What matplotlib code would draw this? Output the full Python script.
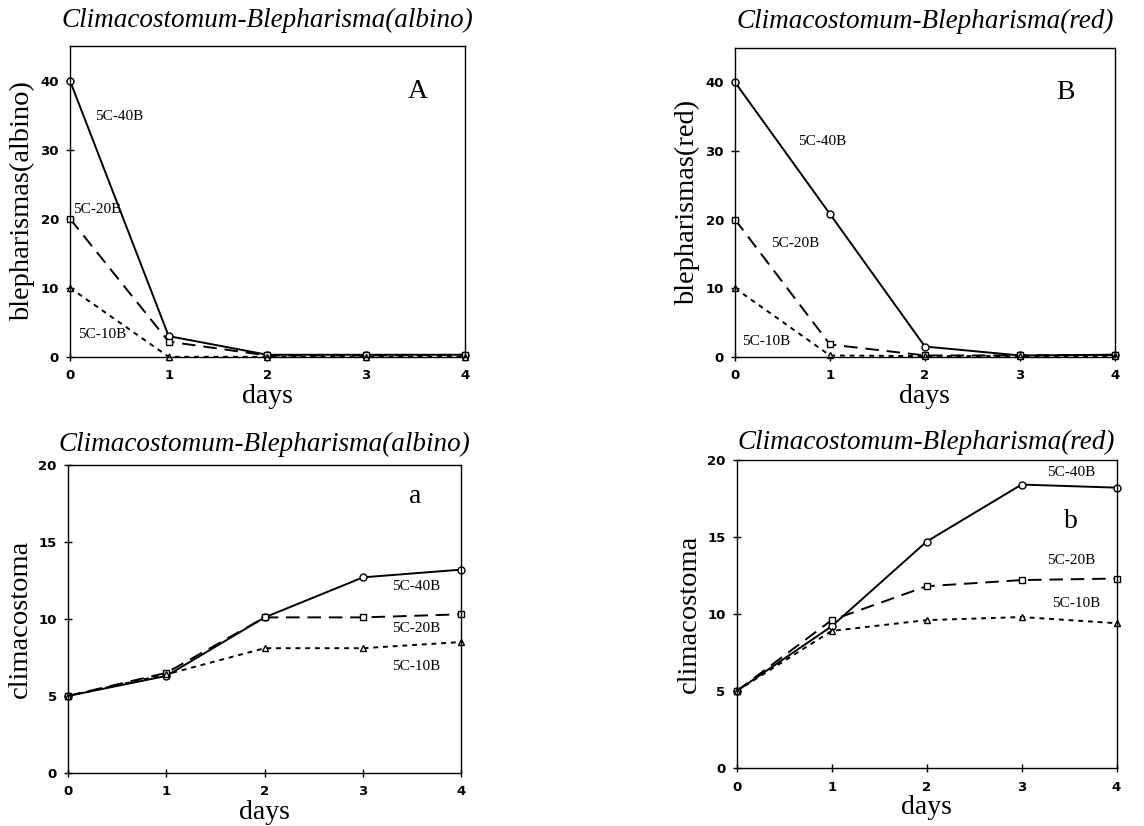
import matplotlib
matplotlib.use("Agg")
import matplotlib.pyplot as plt

# 数据
days = [0, 1, 2, 3, 4]

albino_blep_40 = [40, 3.0, 0.3, 0.3, 0.3]
albino_blep_20 = [20, 2.2, 0.2, 0.2, 0.3]
albino_blep_10 = [10, 0.0, 0.0, 0.0, 0.0]

red_blep_40 = [40, 20.8, 1.5, 0.2, 0.3]
red_blep_20 = [20, 1.8, 0.2, 0.2, 0.3]
red_blep_10 = [10, 0.2, 0.1, 0.1, 0.1]

albino_clim_40 = [5, 6.3, 10.1, 12.7, 13.2]
albino_clim_20 = [5, 6.5, 10.1, 10.1, 10.3]
albino_clim_10 = [5, 6.4, 8.1, 8.1, 8.5]

red_clim_40 = [5, 9.2, 14.7, 18.4, 18.2]
red_clim_20 = [5, 9.6, 11.8, 12.2, 12.3]
red_clim_10 = [5, 8.9, 9.6, 9.8, 9.4]

series_names = ["5C-40B", "5C-20B", "5C-10B"]

SERIF = ["Liberation Serif", "DejaVu Serif"]
SANS = ["DejaVu Sans"]

STYLES = [
    dict(linestyle="-", marker="o"),
    dict(linestyle=(0, (7, 4)), marker="s"),
    dict(linestyle=(0, (2.5, 2.5)), marker="^"),
]


def draw_panel(ax, series, ylim, yticks, ylabel, title, title_pad,
               letter, letter_xy, label_xy):
    for vals, style in zip(series, STYLES):
        ax.plot(days, vals, color="black", linewidth=1.4, markersize=5,
                markerfacecolor="white", markeredgecolor="black",
                markeredgewidth=1.0, clip_on=False, **style)
    ax.set_xlim(0, 4)
    ax.set_ylim(*ylim)
    ax.set_xticks(days)
    ax.set_yticks(yticks)
    ax.tick_params(direction="inout", length=6, width=1, labelsize=9.5,
                   top=False, right=False)
    ax.tick_params(axis="x", pad=6)
    ax.tick_params(axis="y", pad=5)
    for lab in ax.get_xticklabels() + ax.get_yticklabels():
        lab.set_family(SANS)
        lab.set_fontweight("bold")
    ax.set_xlabel("days", family=SERIF, fontsize=20, labelpad=1)
    ax.set_ylabel(ylabel, family=SERIF, fontsize=20.5, labelpad=4)
    ax.set_title(title, family=SERIF, style="italic", fontsize=19.5, pad=title_pad)
    ax.text(*letter_xy, letter, family=SERIF, fontsize=20)
    for name, (x, y) in zip(series_names, label_xy):
        ax.text(x, y, name, family=SERIF, fontsize=11, va="center")
    for sp in ax.spines.values():
        sp.set_linewidth(1.0)


fig = plt.figure(figsize=(11.44, 8.26), dpi=100)

axA = fig.add_axes([0.0612, 0.568, 0.345, 0.376])
draw_panel(axA, [albino_blep_40, albino_blep_20, albino_blep_10],
           (0, 45), [0, 10, 20, 30, 40], "blepharismas(albino)",
           "Climacostomum-Blepharisma(albino)", 14, "A", (3.42, 37.5),
           [(0.25, 34.8), (0.03, 21.4), (0.08, 3.2)])

axB = fig.add_axes([0.6425, 0.568, 0.332, 0.374])
draw_panel(axB, [red_blep_40, red_blep_20, red_blep_10],
           (0, 45), [0, 10, 20, 30, 40], "blepharismas(red)",
           "Climacostomum-Blepharisma(red)", 14, "B", (3.38, 37.5),
           [(0.66, 31.4), (0.38, 16.5), (0.07, 2.2)])

axa = fig.add_axes([0.0594, 0.0642, 0.344, 0.373])
draw_panel(axa, [albino_clim_40, albino_clim_20, albino_clim_10],
           (0, 20), [0, 5, 10, 15, 20], "climacostoma",
           "Climacostomum-Blepharisma(albino)", 10, "a", (3.47, 17.5),
           [(3.29, 12.1), (3.29, 9.4), (3.29, 6.9)])

axb = fig.add_axes([0.644, 0.0702, 0.332, 0.373])
draw_panel(axb, [red_clim_40, red_clim_20, red_clim_10],
           (0, 20), [0, 5, 10, 15, 20], "climacostoma",
           "Climacostomum-Blepharisma(red)", 8, "b", (3.45, 15.6),
           [(3.27, 19.2), (3.27, 13.5), (3.32, 10.7)])

fig.savefig("out.png", dpi=100)
